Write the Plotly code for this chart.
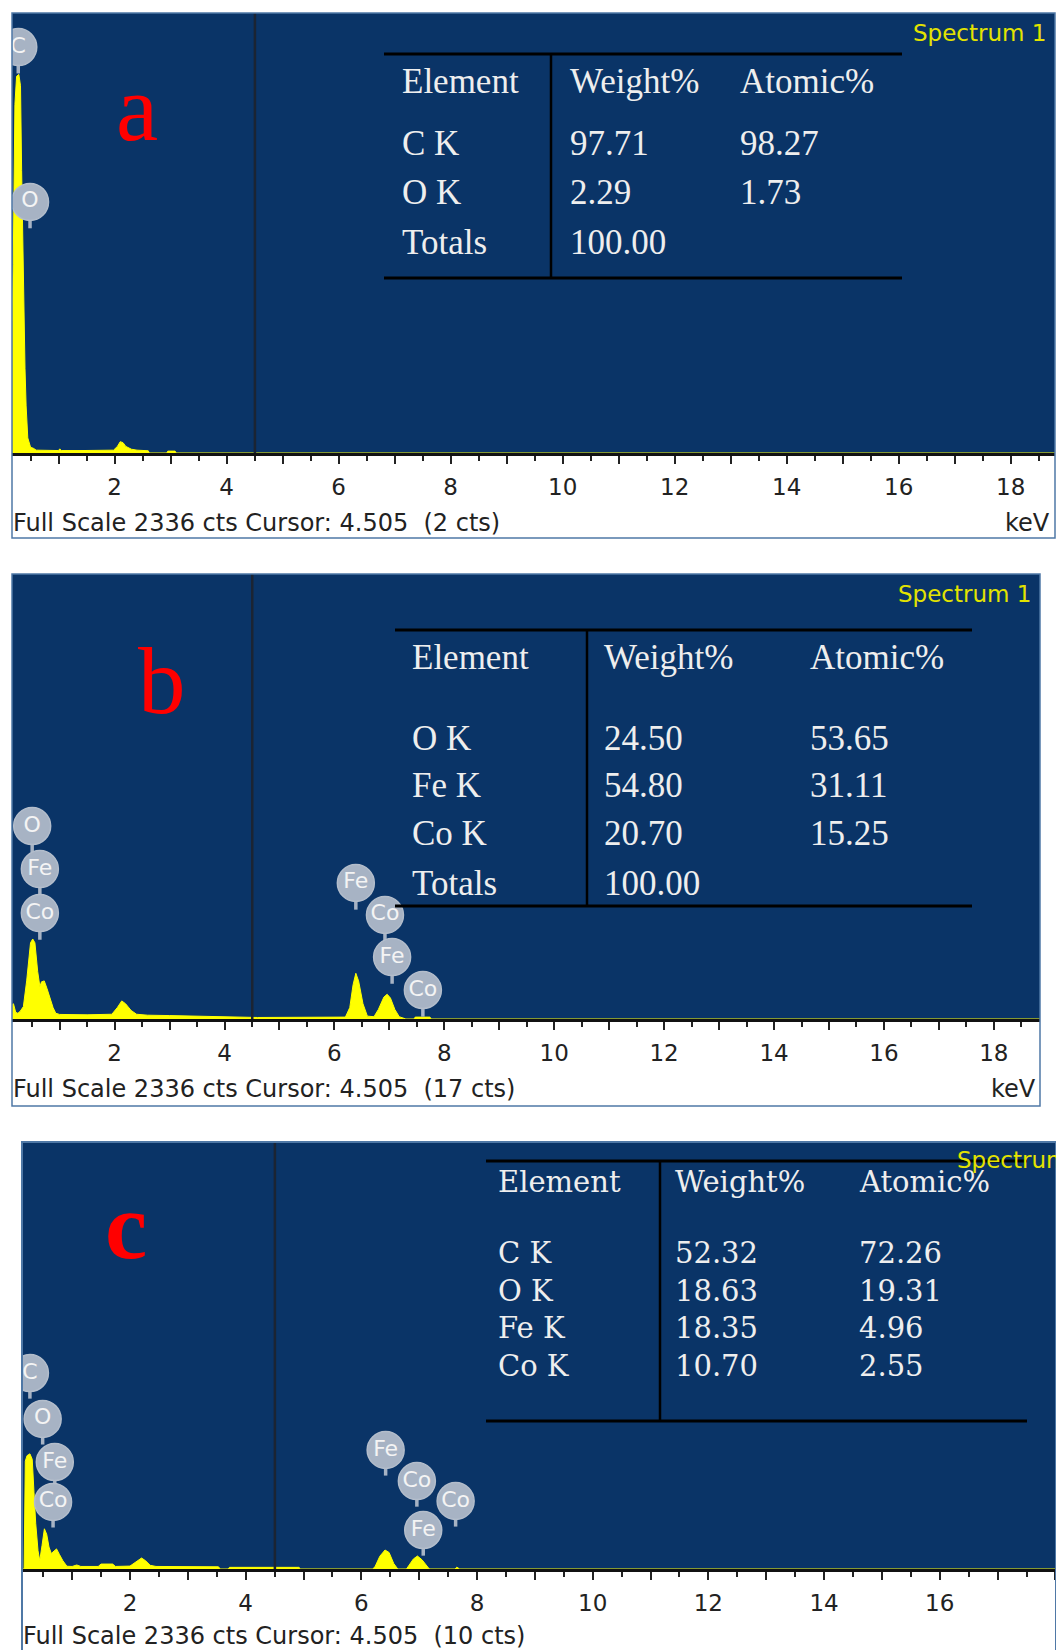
import plotly.graph_objects as go

W, H = 1056, 1650

# ---------------- data ----------------
FULL_SCALE = 2336
CURSOR_KEV = 4.505

# panel a spectrum (keV, counts)
a_energy = [0.17, 0.19, 0.22, 0.25, 0.29, 0.32, 0.34, 0.36, 0.38, 0.40, 0.42, 0.45, 0.50, 0.55, 0.60,
            0.80, 1.00, 1.02, 1.05, 1.40, 1.98, 2.05, 2.10, 2.15, 2.20, 2.30, 2.40, 2.60, 2.62, 2.93,
            2.95, 3.08, 3.10, 18.8]
a_counts = [700, 1000, 1850, 2000, 2010, 1950, 1500, 1050, 700, 450, 250, 80, 30, 25, 15,
            13, 13, 22, 13, 13, 15, 35, 60, 55, 35, 20, 15, 12, 0, 0,
            10, 10, 0, 0]

# panel b spectrum
b_energy = [0.133, 0.16, 0.20, 0.24, 0.28, 0.34, 0.40, 0.47, 0.51, 0.55, 0.60, 0.64, 0.67, 0.72, 0.77,
            0.82, 0.88, 0.93, 1.00, 1.50, 1.95, 2.05, 2.13, 2.20, 2.30, 2.40, 2.60, 3.00, 3.50, 4.00,
            4.40, 4.60, 6.20, 6.28, 6.34, 6.39, 6.44, 6.52, 6.60, 6.72, 6.80, 6.90, 6.96, 7.02, 7.10,
            7.18, 7.30, 7.45, 7.47, 7.74, 7.76, 18.84]
b_counts = [75, 80, 35, 30, 40, 65, 200, 400, 420, 400, 250, 170, 195, 200, 160,
            115, 60, 30, 24, 22, 25, 60, 95, 80, 45, 25, 20, 18, 15, 12,
            12, 8, 10, 60, 180, 240, 200, 80, 15, 12, 50, 115, 130, 110, 50,
            12, 0, 0, 10, 10, 0, 0]

# panel c spectrum
c_energy = [0.133, 0.17, 0.19, 0.22, 0.27, 0.31, 0.34, 0.37, 0.41, 0.44, 0.48, 0.52, 0.56, 0.60, 0.64,
            0.69, 0.73, 0.78, 0.84, 0.91, 1.00, 1.08, 1.15, 1.45, 1.50, 1.70, 1.75, 2.00, 2.10, 2.20,
            2.27, 2.35, 2.45, 3.53, 3.56, 3.70, 3.72, 4.92, 4.95, 6.20, 6.24, 6.32, 6.41, 6.48, 6.56,
            6.63, 6.78, 6.82, 6.90, 6.97, 7.05, 7.15, 7.18, 7.62, 7.65, 7.70, 18.0]
c_counts = [0, 0, 590, 620, 630, 600, 420, 250, 100, 45, 130, 220, 190, 120, 85,
            100, 110, 80, 45, 15, 14, 22, 14, 14, 27, 27, 14, 16, 40, 60,
            45, 20, 14, 12, 0, 0, 9, 9, 0, 0, 15, 70, 104, 90, 30,
            0, 0, 20, 55, 71, 50, 10, 0, 0, 10, 0, 0]

# element markers (label, keV, counts of marker centre)
a_lbl = ["C", "O"]
a_lbl_kev = [0.28, 0.49]
a_lbl_cts = [2155, 1333]

b_lbl = ["O", "Fe", "Co", "Fe", "Co", "Fe", "Co"]
b_lbl_kev = [0.50, 0.64, 0.64, 6.39, 6.92, 7.05, 7.61]
b_lbl_cts = [1013, 787, 556, 714, 546, 325, 152]

c_lbl = ["C", "O", "Fe", "Co", "Fe", "Co", "Fe", "Co"]
c_lbl_kev = [0.27, 0.49, 0.70, 0.67, 6.42, 6.96, 7.07, 7.63]
c_lbl_cts = [1072, 821, 585, 367, 651, 481, 213, 372]

# quantification tables
a_hdr = ["Element", "Weight%", "Atomic%"]
a_elem = ["C K", "O K", "Totals"]
a_wt = ["97.71", "2.29", "100.00"]
a_at = ["98.27", "1.73", ""]

b_hdr = ["Element", "Weight%", "Atomic%"]
b_elem = ["O K", "Fe K", "Co K", "Totals"]
b_wt = ["24.50", "54.80", "20.70", "100.00"]
b_at = ["53.65", "31.11", "15.25", ""]

c_hdr = ["Element", "Weight%", "Atomic%"]
c_elem = ["C K", "O K", "Fe K", "Co K"]
c_wt = ["52.32", "18.63", "18.35", "10.70"]
c_at = ["72.26", "19.31", "4.96", "2.55"]

tick_vals = list(range(1, 19))
tick_text = [str(v) if v % 2 == 0 else "" for v in tick_vals]

# ---------------- layout geometry (pixels) ----------------
panels = [
    dict(letter="a", left=12, right=1055, top=13, axis=453, bottom=538, xr=[0.168, 18.79],
         energy=a_energy, counts=a_counts, lbl=a_lbl, lk=a_lbl_kev, lc=a_lbl_cts,
         footer="Full Scale 2336 cts Cursor: 4.505 \u00a0(2 cts)", foot_y=523, kev_x=1052,
         spec_x=911, spec_y=33, let_x=137, let_y=108, let_bold=False,
         tbl=dict(x0=384, x1=902, top=54, bot=278, vx=551, cols=[400, 568, 738],
                  hy=82, rows=[143, 193, 242], font="Liberation Serif", size=35),
         hdr=a_hdr, elem=a_elem, wt=a_wt, at=a_at),
    dict(letter="b", left=12, right=1040, top=574, axis=1019, bottom=1106, xr=[0.133, 18.84],
         energy=b_energy, counts=b_counts, lbl=b_lbl, lk=b_lbl_kev, lc=b_lbl_cts,
         footer="Full Scale 2336 cts Cursor: 4.505 \u00a0(17 cts)", foot_y=1089, kev_x=1038,
         spec_x=896, spec_y=594, let_x=162, let_y=681, let_bold=False,
         tbl=dict(x0=395, x1=972, top=630, bot=906, vx=587, cols=[410, 602, 808],
                  hy=657, rows=[738, 786, 833, 883], font="Liberation Serif", size=35),
         hdr=b_hdr, elem=b_elem, wt=b_wt, at=b_at),
    dict(letter="c", left=22, right=1056, top=1142, axis=1569, bottom=1700, xr=[0.133, 18.01],
         energy=c_energy, counts=c_counts, lbl=c_lbl, lk=c_lbl_kev, lc=c_lbl_cts,
         footer="Full Scale 2336 cts Cursor: 4.505 \u00a0(10 cts)", foot_y=1636, kev_x=None,
         spec_x=955, spec_y=1160, let_x=126, let_y=1226, let_bold=True,
         tbl=dict(x0=486, x1=1027, top=1161, bot=1421, vx=660, cols=[496, 673, 857],
                  hy=1182, rows=[1253, 1291, 1328, 1366], font="DejaVu Serif", size=29),
         hdr=c_hdr, elem=c_elem, wt=c_wt, at=c_at),
]

BLUE = "#0A3467"
YELLOW = "#FFFF00"
COG = "#A7B3C4"
TXT = "#EEEEEE"
STEM = 140  # counts

def PX(x):
    return x / W

def PY(y):
    return 1 - y / H

fig = go.Figure()
shapes = []
annotations = []
layout_axes = {}

for i, p in enumerate(panels):
    n = "" if i == 0 else str(i + 1)
    xa, ya = "x" + n, "y" + n
    layout_axes["xaxis" + n] = dict(
        domain=[PX(p["left"]), min(1.0, PX(p["right"]))],
        range=p["xr"], anchor=ya,
        showgrid=False, zeroline=False,
        showline=True, linecolor="#111111", linewidth=2.5,
        tickmode="array", tickvals=tick_vals, ticktext=tick_text,
        ticks="outside", ticklen=8, tickwidth=2, tickcolor="#222222",
        ticklabelstandoff=4,
        tickfont=dict(family="DejaVu Sans", size=23, color="#222222"),
        minor=dict(dtick=0.5, tick0=0, ticks="outside", ticklen=5, tickwidth=2,
                   tickcolor="#222222", showgrid=False),
        fixedrange=True,
    )
    layout_axes["yaxis" + n] = dict(
        domain=[PY(p["axis"]), PY(p["top"])],
        range=[0, FULL_SCALE], anchor=xa, visible=False, fixedrange=True,
    )

    # spectrum
    fig.add_trace(go.Scatter(
        x=p["energy"], y=p["counts"], xaxis=xa, yaxis=ya, mode="lines",
        line=dict(color=YELLOW, width=1), fill="tozeroy", fillcolor=YELLOW,
        hoverinfo="skip", showlegend=False))

    # stems for element markers
    sx, sy = [], []
    for k, c in zip(p["lk"], p["lc"]):
        sx += [k, k, None]
        sy += [c, c - STEM, None]
    fig.add_trace(go.Scatter(
        x=sx, y=sy, xaxis=xa, yaxis=ya, mode="lines",
        line=dict(color=COG, width=3.5), hoverinfo="skip", showlegend=False))
    fig.add_trace(go.Scatter(
        x=p["lk"], y=p["lc"], xaxis=xa, yaxis=ya, mode="markers+text",
        marker=dict(size=37, color=COG, line=dict(color="#B3BDCB", width=1.5)),
        text=p["lbl"], textposition="middle center",
        textfont=dict(family="DejaVu Sans", size=22, color="#F4F4F4"),
        hoverinfo="skip", showlegend=False, cliponaxis=True))

    # cursor line
    shapes.append(dict(type="line", xref=xa, yref=ya + " domain", x0=CURSOR_KEV, x1=CURSOR_KEV,
                       y0=0, y1=1, line=dict(color="#1B2433", width=2.5), layer="above"))

    # panel frame
    shapes.append(dict(type="rect", xref="paper", yref="paper",
                       x0=PX(p["left"]), x1=PX(p["right"]), y0=PY(p["bottom"]), y1=PY(p["top"]),
                       line=dict(color="#4F78A6", width=2 if i == 2 else 1.5), layer="above"))

    # table
    t = p["tbl"]
    for yy in (t["top"], t["bot"]):
        shapes.append(dict(type="line", xref="paper", yref="paper",
                           x0=PX(t["x0"]), x1=PX(t["x1"]), y0=PY(yy), y1=PY(yy),
                           line=dict(color="#000000", width=3), layer="above"))
    shapes.append(dict(type="line", xref="paper", yref="paper",
                       x0=PX(t["vx"]), x1=PX(t["vx"]), y0=PY(t["top"]), y1=PY(t["bot"]),
                       line=dict(color="#000000", width=2.5), layer="above"))
    tf = dict(family=t["font"], size=t["size"], color=TXT)
    for ci, h in enumerate(p["hdr"]):
        annotations.append(dict(xref="paper", yref="paper", x=PX(t["cols"][ci]), y=PY(t["hy"]),
                                text=h, showarrow=False, xanchor="left", yanchor="middle", font=tf))
    for ri, ry in enumerate(t["rows"]):
        for ci, col in enumerate((p["elem"], p["wt"], p["at"])):
            if col[ri]:
                annotations.append(dict(xref="paper", yref="paper", x=PX(t["cols"][ci]), y=PY(ry),
                                        text=col[ri], showarrow=False, xanchor="left",
                                        yanchor="middle", font=tf))

    # Spectrum label
    annotations.append(dict(xref="paper", yref="paper", x=PX(p["spec_x"]), y=PY(p["spec_y"]),
                            text="Spectrum 1", showarrow=False, xanchor="left", yanchor="middle",
                            font=dict(family="DejaVu Sans", size=23, color="#E3E300")))
    # footer
    annotations.append(dict(xref="paper", yref="paper", x=PX(p["left"] - 1), y=PY(p["foot_y"]),
                            text=p["footer"], showarrow=False, xanchor="left", yanchor="middle",
                            font=dict(family="DejaVu Sans", size=24, color="#222222")))
    if p["kev_x"]:
        annotations.append(dict(xref="paper", yref="paper", x=PX(p["kev_x"]), y=PY(p["foot_y"]),
                                text="keV", showarrow=False, xanchor="right", yanchor="middle",
                                font=dict(family="DejaVu Sans", size=24, color="#222222")))
    # panel letter
    letter = "<b>%s</b>" % p["letter"] if p["let_bold"] else p["letter"]
    annotations.append(dict(xref="paper", yref="paper", x=PX(p["let_x"]), y=PY(p["let_y"]),
                            text=letter, showarrow=False, xanchor="center", yanchor="middle",
                            font=dict(family="Liberation Serif", size=95, color="#FF0000")))

fig.update_layout(
    width=W, height=H, margin=dict(l=0, r=0, t=0, b=0),
    paper_bgcolor="#FFFFFF", plot_bgcolor=BLUE,
    shapes=shapes, annotations=annotations, showlegend=False,
    **layout_axes,
)

fig.write_html("out.html")
